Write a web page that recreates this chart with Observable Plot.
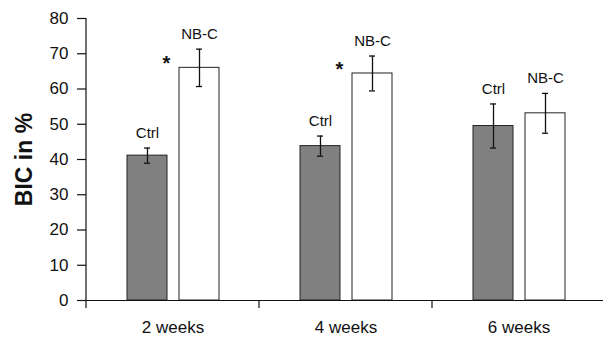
<!DOCTYPE html>
<html>
<head>
<meta charset="utf-8">
<script src="https://cdn.jsdelivr.net/npm/d3@7"></script>
<script src="https://cdn.jsdelivr.net/npm/@observablehq/plot@0.6"></script>
<style>
  html, body { margin: 0; padding: 0; background: #fff; }
</style>
</head>
<body>
<div id="chart"></div>
<script>
const weeks = ["2 weeks", "4 weeks", "6 weeks"];
const groups = ["Ctrl", "NB-C"];
const ctrlMean = [41.1, 43.8, 49.5];
const ctrlSD = [2.15, 2.85, 6.25];
const nbcMean = [66.0, 64.4, 53.1];
const nbcSD = [5.3, 4.95, 5.65];
const significant = ["2 weeks", "4 weeks"];
const yTicks = [0, 10, 20, 30, 40, 50, 60, 70, 80];
const yTitle = "BIC in %";

const rows = weeks.flatMap((w, i) => [
  {week: w, group: groups[0], mean: ctrlMean[i], sd: ctrlSD[i]},
  {week: w, group: groups[1], mean: nbcMean[i], sd: nbcSD[i]}
]);
const sigRows = rows.filter(d => d.group === "NB-C" && significant.includes(d.week));

const ink = "#111";

const chart = Plot.plot({
  width: 603,
  height: 337,
  marginLeft: 85,
  marginRight: -3,
  marginTop: 18,
  marginBottom: 37,
  style: {fontFamily: "'Liberation Sans', Arial, sans-serif", color: ink, background: "#fff"},
  fx: {domain: weeks, padding: 0, label: null},
  x: {domain: groups, paddingInner: 0.236, paddingOuter: 0.754, axis: null},
  y: {domain: [0, 80], axis: null},
  color: {domain: groups, range: ["#808080", "#ffffff"]},
  marks: [
    Plot.barY(rows, {fx: "week", x: "group", y: "mean", fill: "group", stroke: "#222", strokeWidth: 1}),
    Plot.ruleX(rows, {fx: "week", x: "group", y1: d => d.mean - d.sd, y2: d => d.mean + d.sd, stroke: ink, strokeWidth: 1.3}),
    Plot.tickY(rows, {fx: "week", x: "group", y: d => d.mean - d.sd, stroke: ink, strokeWidth: 1.3, insetLeft: 17, insetRight: 17}),
    Plot.tickY(rows, {fx: "week", x: "group", y: d => d.mean + d.sd, stroke: ink, strokeWidth: 1.3, insetLeft: 17, insetRight: 17}),
    Plot.text(rows, {fx: "week", x: "group", y: d => d.mean + d.sd, text: "group", dy: -15, fontSize: 15, fill: ink}),
    Plot.text(sigRows, {fx: "week", x: "group", y: "mean", text: () => "*", dx: -33, dy: -4, fontSize: 20, fontWeight: "bold", fill: ink}),
    Plot.ruleY([0], {stroke: ink, strokeWidth: 1.2}),
    Plot.axisY({ticks: yTicks, tickSize: 9, tickPadding: 9, fontSize: 17, label: null, stroke: ink, strokeWidth: 1.2}),
    Plot.axisFx({anchor: "bottom", tickSize: 0, tickPadding: 20, fontSize: 17, label: null}),
    Plot.frame({
      facet: "super",
      render: (index, scales) => {
        const g = d3.create("svg:g").attr("stroke", ink).attr("stroke-width", 1.2).attr("fill", "none");
        const y0 = scales.y(0);
        const yTop = scales.y(d3.max(yTicks));
        const xLeft = scales.fx(weeks[0]);
        g.append("line").attr("x1", xLeft).attr("x2", xLeft).attr("y1", yTop).attr("y2", y0);
        for (const w of weeks) {
          const x = scales.fx(w);
          g.append("line").attr("x1", x).attr("x2", x).attr("y1", y0).attr("y2", y0 + 8);
        }
        return g.node();
      }
    }),
    Plot.text([yTitle], {fx: () => weeks[0], frameAnchor: "left", textAnchor: "middle", lineAnchor: "middle", text: d => d, rotate: -90, dx: -62, fontSize: 23, fontWeight: "bold", fill: ink})
  ]
});
document.getElementById("chart").appendChild(chart);
</script>
</body>
</html>
